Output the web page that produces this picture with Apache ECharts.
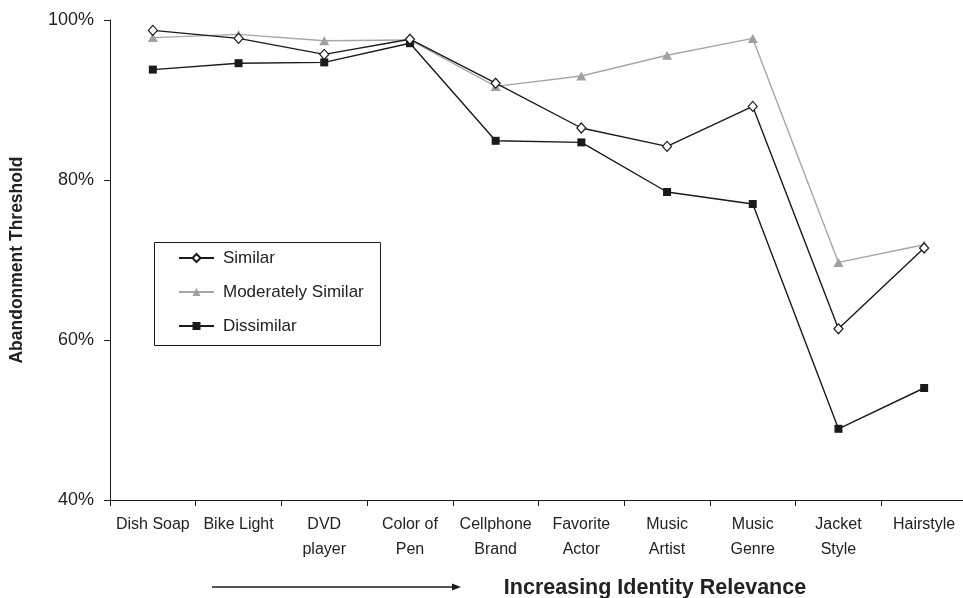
<!DOCTYPE html>
<html>
<head>
<meta charset="utf-8">
<script src="https://cdn.jsdelivr.net/npm/echarts@6/dist/echarts.min.js"></script>
<style>html,body{margin:0;padding:0;background:#fff;}#c{width:963px;height:598px;}</style>
</head>
<body>
<div id="c"></div>
<script>
var categories = ['Dish Soap', 'Bike Light', 'DVD\nplayer', 'Color of\nPen', 'Cellphone\nBrand', 'Favorite\nActor', 'Music\nArtist', 'Music\nGenre', 'Jacket\nStyle', 'Hairstyle'];
var similar = [98.7, 97.7, 95.7, 97.6, 92.1, 86.5, 84.2, 89.2, 61.4, 71.5];
var moderatelySimilar = [97.8, 98.2, 97.4, 97.5, 91.7, 93.0, 95.6, 97.7, 69.7, 71.9];
var dissimilar = [93.8, 94.6, 94.7, 97.1, 84.9, 84.7, 78.5, 77.0, 48.9, 54.0];
var yTicks = [40, 60, 80, 100];

var FONT = 'Liberation Sans, Arial, sans-serif';
var chart = echarts.init(document.getElementById('c'));
chart.setOption({
  animation: false,
  backgroundColor: '#fff',
  textStyle: { fontFamily: FONT },
  grid: { left: 110, width: 857, top: 20, height: 480, containLabel: false, outerBoundsMode: 'none' },
  xAxis: {
    type: 'category',
    data: categories,
    boundaryGap: true,
    axisLine: { lineStyle: { color: '#1a1a1a', width: 1 } },
    axisTick: { show: true, length: 6, lineStyle: { color: '#1a1a1a' } },
    axisLabel: { interval: 0, color: '#222', fontSize: 16, lineHeight: 25, margin: 12, fontFamily: FONT },
    splitLine: { show: false }
  },
  yAxis: {
    type: 'value',
    min: yTicks[0], max: yTicks[yTicks.length - 1], interval: 20,
    name: 'Abandonment Threshold',
    nameLocation: 'middle',
    nameGap: 84,
    nameRotate: 90,
    nameTextStyle: { fontWeight: 'bold', fontSize: 17.5, color: '#222', fontFamily: FONT },
    axisLine: { show: true, lineStyle: { color: '#1a1a1a', width: 1 } },
    axisTick: { show: true, length: 6, lineStyle: { color: '#1a1a1a' } },
    axisLabel: { formatter: '{value}%', color: '#222', fontSize: 18, margin: 16, fontFamily: FONT },
    splitLine: { show: false }
  },
  legend: {
    orient: 'vertical',
    left: 173, top: 243,
    itemWidth: 35, itemHeight: 10, itemGap: 14,
    textStyle: { fontSize: 17, color: '#222', lineHeight: 20, padding: [0, 0, 0, 4], fontFamily: FONT },
    data: ['Similar', 'Moderately Similar', 'Dissimilar'],
    z: 10
  },
  graphic: [
    { type: 'rect', z: 1, shape: { x: 154.5, y: 242.5, width: 226, height: 103 }, style: { fill: '#fff', stroke: '#1a1a1a', lineWidth: 1 } },
    { type: 'line', shape: { x1: 212, y1: 587, x2: 455, y2: 587 }, style: { stroke: '#1a1a1a', lineWidth: 1.5 } },
    { type: 'polygon', shape: { points: [[452, 583.5], [461, 587], [452, 590.5]] }, style: { fill: '#1a1a1a' } },
    { type: 'text', x: 655, y: 588, style: { text: 'Increasing Identity Relevance', fontSize: 21.5, fontWeight: 'bold', fill: '#222', textAlign: 'center', textVerticalAlign: 'middle', fontFamily: FONT } }
  ],
  series: [
    {
      name: 'Similar', type: 'line', data: similar, z: 5,
      symbol: 'diamond', symbolSize: [9, 10],
      lineStyle: { color: '#1a1a1a', width: 1.4 },
      itemStyle: { color: '#fff', borderColor: '#1a1a1a', borderWidth: 1.2 }
    },
    {
      name: 'Moderately Similar', type: 'line', data: moderatelySimilar, z: 3,
      symbol: 'triangle', symbolSize: [10, 9],
      lineStyle: { color: '#a6a6a6', width: 1.4 },
      itemStyle: { color: '#a0a0a0', borderColor: '#a0a0a0', borderWidth: 0 }
    },
    {
      name: 'Dissimilar', type: 'line', data: dissimilar, z: 4,
      symbol: 'rect', symbolSize: 8,
      lineStyle: { color: '#1a1a1a', width: 1.4 },
      itemStyle: { color: '#1a1a1a', borderColor: '#1a1a1a', borderWidth: 0 }
    }
  ]
});
</script>
</body>
</html>
